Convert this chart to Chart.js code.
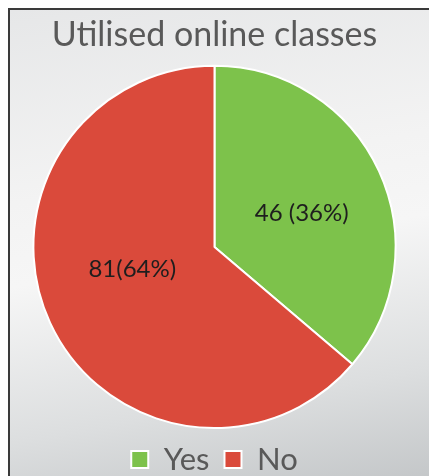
<!DOCTYPE html>
<html>
<head>
<meta charset="utf-8">
<script src="https://cdn.jsdelivr.net/npm/chart.js@4"></script>
<style>
  html, body { margin: 0; padding: 0; background: #fff; }
  body { width: 429px; height: 476px; position: relative; overflow: hidden; }
  .frame {
    position: absolute; left: 8px; top: 8px; width: 430px; height: 480px;
    border-top: 2px solid #3a3a3a; border-left: 2px solid #3a3a3a;
    background: linear-gradient(170deg, #e6e7e8 0%, #f3f3f3 35%, #f6f6f6 50%, #dcdedf 78%, #c1c4c6 100%);
  }
  canvas { position: absolute; left: 0; top: 0; }
</style>
</head>
<body>
<div class="frame"></div>
<canvas id="pie" width="429" height="476"></canvas>
<script>
const categories = ['Yes', 'No'];
const counts = [46, 81];
const sliceLabels = ['46 (36%)', '81(64%)'];
const sliceColors = ['#7dc24b', '#da4a3b'];

// draw the text labels in the middle of each slice (small nudges to match the original)
const nudges = [[5, 4], [0, -16]];
const sliceText = {
  id: 'sliceText',
  afterDatasetsDraw(chart) {
    const ctx = chart.ctx;
    const meta = chart.getDatasetMeta(0);
    ctx.save();
    ctx.font = '24px Lato';
    ctx.fillStyle = '#1e1e1e';
    ctx.textAlign = 'center';
    ctx.textBaseline = 'middle';
    meta.data.forEach((arc, i) => {
      const p = arc.tooltipPosition();
      ctx.fillText(sliceLabels[i], p.x + nudges[i][0], p.y + nudges[i][1]);
    });
    ctx.restore();
  }
};

new Chart(document.getElementById('pie'), {
  type: 'pie',
  data: {
    labels: categories,
    datasets: [{
      data: counts,
      backgroundColor: sliceColors,
      borderColor: '#ffffff',
      borderWidth: 2
    }]
  },
  options: {
    responsive: false,
    animation: false,
    layout: { padding: { left: 10, right: 10, top: 0, bottom: -9 } },
    plugins: {
      title: {
        display: true,
        text: 'Utilised online classes',
        color: '#595959',
        font: { family: 'Lato', size: 34, weight: 'normal' },
        padding: { top: 15, bottom: 9 }
      },
      legend: {
        position: 'bottom',
        labels: {
          color: '#595959',
          font: { family: 'Lato', size: 31 },
          boxWidth: 17,
          boxHeight: 17,
          padding: 15
        }
      },
      tooltip: { enabled: false }
    }
  },
  plugins: [sliceText]
});
</script>
</body>
</html>
